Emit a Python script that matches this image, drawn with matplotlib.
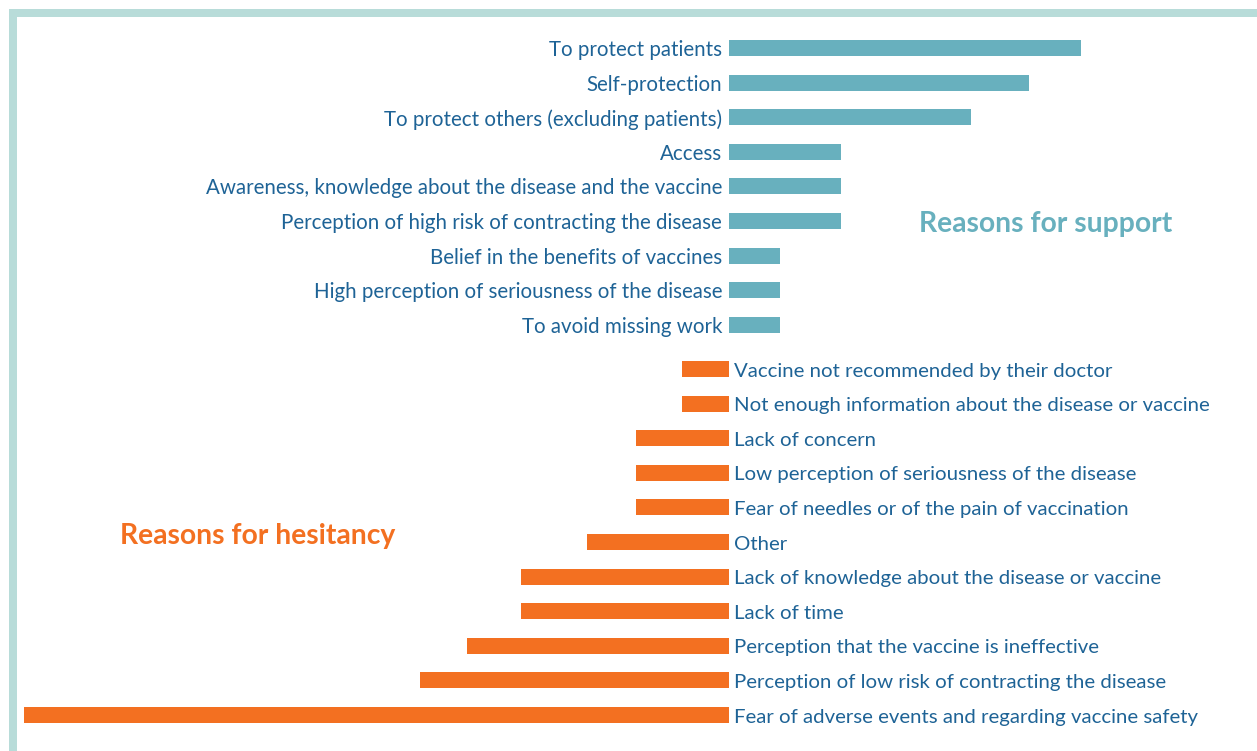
import matplotlib
matplotlib.use("Agg")
import matplotlib.pyplot as plt
from matplotlib.patches import Rectangle
import numpy as np

support_labels = [
    "To protect patients",
    "Self-protection",
    "To protect others (excluding patients)",
    "Access",
    "Awareness, knowledge about the disease and the vaccine",
    "Perception of high risk of contracting the disease",
    "Belief in the benefits of vaccines",
    "High perception of seriousness of the disease",
    "To avoid missing work",
]
support_values = [35.2, 30.0, 24.2, 11.2, 11.2, 11.2, 5.1, 5.1, 5.1]

hesitancy_labels = [
    "Vaccine not recommended by their doctor",
    "Not enough information about the disease or vaccine",
    "Lack of concern",
    "Low perception of seriousness of the disease",
    "Fear of needles or of the pain of vaccination",
    "Other",
    "Lack of knowledge about the disease or vaccine",
    "Lack of time",
    "Perception that the vaccine is ineffective",
    "Perception of low risk of contracting the disease",
    "Fear of adverse events and regarding vaccine safety",
]
hesitancy_values = [4.7, 4.7, 9.3, 9.3, 9.3, 14.2, 20.8, 20.8, 26.2, 30.9, 70.5]

TEAL = "#68b0be"
ORANGE = "#f37021"
TEXT = "#1e6396"
BORDER = "#b8dcd9"
FONT = "Lato"

W, H = 1257, 751
fig = plt.figure(figsize=(W / 100, H / 100), dpi=100)
ax = fig.add_axes([0, 0, 1, 1])
ax.set_xlim(-72.9, 52.8)
ax.set_ylim(20.32, -1.387)
ax.axis("off")

y_sup = np.arange(len(support_values))
y_hes = 9.28 + np.arange(len(hesitancy_values))
bh = 0.46

ax.barh(y_sup, support_values, height=bh, color=TEAL)
ax.barh(y_hes, [-v for v in hesitancy_values], height=bh, color=ORANGE)

for y, lab in zip(y_sup, support_labels):
    ax.text(-0.7, y + 0.06, lab, ha="right", va="center", fontsize=14.8,
            color=TEXT, family=FONT)
for y, lab in zip(y_hes, hesitancy_labels):
    ax.text(0.5, y + 0.06, lab, ha="left", va="center", fontsize=14.7,
            color=TEXT, family=FONT)

ax.text(31.7, 5.1, "Reasons for support", ha="center", va="center",
        fontsize=20.3, fontweight="bold", color=TEAL, family=FONT)
ax.text(-47.1, 14.1, "Reasons for hesitancy", ha="center", va="center",
        fontsize=20.3, fontweight="bold", color=ORANGE, family=FONT)

fig.add_artist(Rectangle((9 / W, 1 - 17 / H), (W - 9) / W, 8 / H,
                         transform=fig.transFigure, color=BORDER, lw=0))
fig.add_artist(Rectangle((9 / W, 0), 8 / W, 1 - 9 / H,
                         transform=fig.transFigure, color=BORDER, lw=0))

fig.savefig("out.png", dpi=100)
